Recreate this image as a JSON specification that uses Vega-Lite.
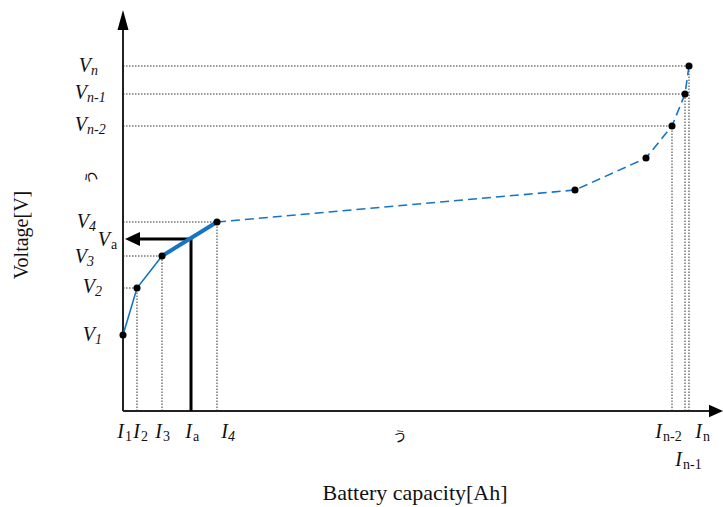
{
  "$schema": "https://vega.github.io/schema/vega-lite/v6.json",
  "width": 723,
  "height": 507,
  "autosize": {"type": "fit", "contains": "padding"},
  "padding": 0,
  "background": "white",
  "config": {"view": {"stroke": null}},
  "datasets": {
    "curve": [
      {"point": "P1", "capacity": 0, "voltage": 76},
      {"point": "P2", "capacity": 14, "voltage": 123},
      {"point": "P3", "capacity": 39, "voltage": 155},
      {"point": "P4", "capacity": 94, "voltage": 189},
      {"point": "P5", "capacity": 452, "voltage": 221},
      {"point": "P6", "capacity": 523, "voltage": 253},
      {"point": "P7", "capacity": 549, "voltage": 285},
      {"point": "P8", "capacity": 562, "voltage": 317},
      {"point": "P9", "capacity": 566, "voltage": 345}
    ],
    "axes": [
      {"axis": "x", "capacity": 0, "voltage": 0, "capacity2": 588, "voltage2": 0},
      {"axis": "y", "capacity": 0, "voltage": 0, "capacity2": 0, "voltage2": 383}
    ],
    "operating": [
      {"part": "Ia", "capacity": 68, "voltage": 0, "capacity2": 68, "voltage2": 172},
      {"part": "Va", "capacity": 68, "voltage": 172, "capacity2": 12, "voltage2": 172}
    ],
    "heads": [
      {"dir": "right", "capacity": 593, "voltage": 0},
      {"dir": "up", "capacity": 0, "voltage": 391},
      {"dir": "left", "capacity": 9.5, "voltage": 172}
    ],
    "labels": [
      {"letter": "V", "sub": "n", "capacity": -32, "voltage": 345},
      {"letter": "V", "sub": "n-1", "capacity": -36, "voltage": 318},
      {"letter": "V", "sub": "n-2", "capacity": -36, "voltage": 286},
      {"letter": "V", "sub": "4", "capacity": -34, "voltage": 189},
      {"letter": "V", "sub": "a", "capacity": -13, "voltage": 171},
      {"letter": "V", "sub": "3", "capacity": -36, "voltage": 154},
      {"letter": "V", "sub": "2", "capacity": -28, "voltage": 124},
      {"letter": "V", "sub": "1", "capacity": -28, "voltage": 76},
      {"letter": "I", "sub": "1", "capacity": 1, "voltage": -21},
      {"letter": "I", "sub": "2", "capacity": 17, "voltage": -21},
      {"letter": "I", "sub": "3", "capacity": 39, "voltage": -21},
      {"letter": "I", "sub": "a", "capacity": 69, "voltage": -21},
      {"letter": "I", "sub": "4", "capacity": 105, "voltage": -21},
      {"letter": "I", "sub": "n-2", "capacity": 539, "voltage": -21},
      {"letter": "I", "sub": "n", "capacity": 579, "voltage": -21},
      {"letter": "I", "sub": "n-1", "capacity": 559, "voltage": -49}
    ],
    "texts": [
      {"role": "xtitle", "text": "Battery capacity[Ah]", "capacity": 292, "voltage": -82},
      {"role": "ytitle", "text": "Voltage[V]", "capacity": -101, "voltage": 176},
      {"role": "xdots", "text": "う", "capacity": 277, "voltage": -26},
      {"role": "ydots", "text": "う", "capacity": -31, "voltage": 234}
    ]
  },
  "encoding": {
    "x": {"field": "capacity", "type": "quantitative", "scale": {"domain": [-123, 600], "zero": false, "nice": false}, "axis": null},
    "y": {"field": "voltage", "type": "quantitative", "scale": {"domain": [-96, 411], "zero": false, "nice": false}, "axis": null}
  },
  "layer": [
    {
      "data": {"name": "curve"},
      "transform": [{"filter": {"field": "point", "oneOf": ["P2", "P3", "P4", "P7", "P8", "P9"]}}],
      "mark": {"type": "rule", "color": "#333", "strokeWidth": 1, "strokeDash": [1.5, 1.5]},
      "encoding": {"x": {"datum": 0}, "x2": {"field": "capacity"}}
    },
    {
      "data": {"name": "curve"},
      "transform": [{"filter": {"field": "point", "oneOf": ["P2", "P3", "P4", "P7", "P8", "P9"]}}],
      "mark": {"type": "rule", "color": "#333", "strokeWidth": 1, "strokeDash": [1.5, 1.5]},
      "encoding": {"y": {"datum": 0}, "y2": {"field": "voltage"}}
    },
    {
      "data": {"name": "axes"},
      "mark": {"type": "rule", "color": "#222", "strokeWidth": 2},
      "encoding": {"x2": {"field": "capacity2"}, "y2": {"field": "voltage2"}}
    },
    {
      "data": {"name": "operating"},
      "mark": {"type": "rule", "color": "#000", "strokeWidth": 3},
      "encoding": {"x2": {"field": "capacity2"}, "y2": {"field": "voltage2"}}
    },
    {
      "data": {"name": "heads"},
      "transform": [{"filter": "datum.dir === 'right'"}],
      "mark": {"type": "point", "filled": true, "color": "#000", "opacity": 1, "size": 196, "shape": "M1,0L-1,-0.9L-1,0.9Z"}
    },
    {
      "data": {"name": "heads"},
      "transform": [{"filter": "datum.dir === 'up'"}],
      "mark": {"type": "point", "filled": true, "color": "#000", "opacity": 1, "size": 400, "shape": "M0,-1L0.55,1L-0.55,1Z"}
    },
    {
      "data": {"name": "heads"},
      "transform": [{"filter": "datum.dir === 'left'"}],
      "mark": {"type": "point", "filled": true, "color": "#000", "opacity": 1, "size": 225, "shape": "M-1,0L1,-0.93L1,0.93Z"}
    },
    {
      "data": {"name": "curve"},
      "transform": [{"filter": "datum.capacity <= 39"}],
      "mark": {"type": "line", "color": "#1574C4", "strokeWidth": 1.6},
      "encoding": {"order": {"field": "capacity"}}
    },
    {
      "data": {"name": "curve"},
      "transform": [{"filter": "datum.capacity >= 39 && datum.capacity <= 94"}],
      "mark": {"type": "line", "color": "#1574C4", "strokeWidth": 4},
      "encoding": {"order": {"field": "capacity"}}
    },
    {
      "data": {"name": "curve"},
      "transform": [{"filter": "datum.capacity >= 94"}],
      "mark": {"type": "line", "color": "#1574C4", "strokeWidth": 1.6, "strokeDash": [9, 5]},
      "encoding": {"order": {"field": "capacity"}}
    },
    {
      "data": {"name": "curve"},
      "mark": {"type": "point", "filled": true, "color": "#000", "opacity": 1, "size": 50}
    },
    {
      "data": {"name": "labels"},
      "mark": {"type": "text", "font": "Liberation Serif", "fontSize": 20, "fontStyle": "italic", "align": "right", "baseline": "middle", "color": "#111"},
      "encoding": {"text": {"field": "letter"}}
    },
    {
      "data": {"name": "labels"},
      "transform": [{"filter": "(datum.letter === 'V' && datum.sub !== 'a') || datum.sub === '4'"}],
      "mark": {"type": "text", "font": "Liberation Serif", "fontSize": 14, "fontStyle": "italic", "align": "left", "baseline": "middle", "dy": 5, "color": "#111"},
      "encoding": {"text": {"field": "sub"}}
    },
    {
      "data": {"name": "labels"},
      "transform": [{"filter": "!((datum.letter === 'V' && datum.sub !== 'a') || datum.sub === '4')"}],
      "mark": {"type": "text", "font": "Liberation Serif", "fontSize": 14, "fontStyle": "normal", "align": "left", "baseline": "middle", "dy": 5, "dx": 1, "color": "#111"},
      "encoding": {"text": {"field": "sub"}}
    },
    {
      "data": {"name": "texts"},
      "transform": [{"filter": "datum.role === 'xtitle'"}],
      "mark": {"type": "text", "font": "Liberation Serif", "fontSize": 22, "align": "center", "baseline": "middle", "color": "#111"},
      "encoding": {"text": {"field": "text"}}
    },
    {
      "data": {"name": "texts"},
      "transform": [{"filter": "datum.role === 'ytitle'"}],
      "mark": {"type": "text", "font": "Liberation Serif", "fontSize": 20, "align": "center", "baseline": "middle", "angle": 270, "color": "#111"},
      "encoding": {"text": {"field": "text"}}
    },
    {
      "data": {"name": "texts"},
      "transform": [{"filter": "datum.role === 'xdots'"}],
      "mark": {"type": "text", "font": "Noto Sans CJK JP", "fontSize": 14, "align": "center", "baseline": "middle", "color": "#111"},
      "encoding": {"text": {"field": "text"}}
    },
    {
      "data": {"name": "texts"},
      "transform": [{"filter": "datum.role === 'ydots'"}],
      "mark": {"type": "text", "font": "Noto Sans CJK JP", "fontSize": 14, "align": "center", "baseline": "middle", "angle": 270, "color": "#111"},
      "encoding": {"text": {"field": "text"}}
    }
  ]
}
